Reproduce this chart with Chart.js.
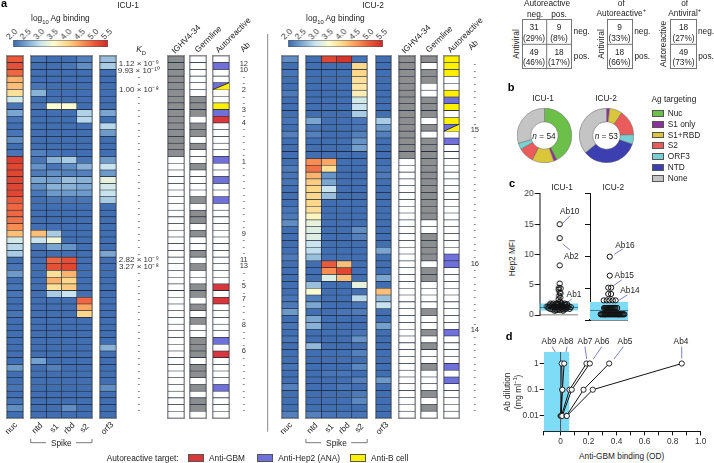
<!DOCTYPE html>
<html>
<head>
<meta charset="utf-8">
<script src="https://cdn.jsdelivr.net/npm/chart.js@4"></script>
<style>
  body { margin: 0; background: #fff; width: 714px; height: 463px; overflow: hidden; position: relative;
         font-family: "Liberation Sans", Arial, sans-serif; color: #222; }
  canvas { position: absolute; }
  .t { position: absolute; white-space: nowrap; font-size: 8.3px; line-height: 1; transform: translate(-50%, -50%); }
  .box { position: absolute; box-sizing: border-box; }
  sub, sup { font-size: 70%; line-height: 0; }
  svg { position: absolute; left: 0; top: 0; }
</style>
</head>
<body>
<svg id="lines" width="714" height="463"></svg>
<script>
// ---- data ----
var heatColumns = ["nuc", "ntd", "s1", "rbd", "s2", "orf3"];
var colorbarTicks = [2, 2.5, 3, 3.5, 4, 4.5, 5, 5.5];

// ICU-1, 54 antibodies, log10 Ag binding
var nuc1 = [5.0,5.1,4.9,4.3,4.2,3.9,3.1,2.1,2.5,2.1, 2.05,2.1,2.3,2.05,2.1,5.3,5.2,5.2,5.2,5.2, 5.2,5.0,4.9,4.9,4.8,4.6,4.2,3.1,2.9,2.8, 2.05,2.1,2.4,2.05,2.1,2.1,2.05,2.05,2.1,2.05, 2.05,2.05,2.05,2.05,2.05,2.05,2.4,2.05,2.05,2.1, 2.05,2.1,2.3,2.05];
var ntd1 = [2.1,2.05,2.05,2.05,2.1,2.6,2.05,2.1,2.05,2.05, 2.05,2.05,2.05,2.05,2.2,2.1,2.35,2.15,2.5,2.3, 2.1,2.05,2.05,2.05,2.05,2.05,4.2,3.0,2.15,2.05, 2.05,2.05,2.05,2.05,2.05,2.05,2.05,2.05,2.05,2.05, 2.05,2.05,2.05,2.05,2.05,2.45,2.05,2.05,2.05,2.05, 2.05,2.05,2.05,2.05];
var s11 = [2.05,2.05,2.05,2.05,2.05,2.05,2.05,3.5,2.05,2.05, 2.05,2.05,2.05,2.05,2.1,2.6,2.1,2.3,2.45,2.6, 2.4,2.1,2.05,2.05,2.05,2.05,2.8,3.4,2.5,2.05, 4.9,5.1,3.9,4.3,3.9,2.8,2.05,2.05,2.05,2.05, 2.05,2.05,2.05,2.05,2.05,2.05,2.2,2.05,2.05,2.05, 2.05,2.05,2.05,2.05];
var rbd1 = [2.05,2.1,2.05,2.05,2.05,2.05,2.05,3.5,2.05,2.05, 2.05,2.05,2.05,2.05,2.05,2.8,2.3,2.2,2.7,2.6, 2.4,2.1,2.05,2.05,2.05,2.05,2.05,2.05,2.35,2.05, 5.1,5.2,4.3,4.0,4.1,3.0,2.05,2.05,2.05,2.05, 2.05,2.05,2.05,2.05,2.05,2.05,2.05,2.05,2.05,2.05, 2.05,2.05,2.3,2.05];
var s21 = [2.2,2.3,2.05,2.05,2.05,2.05,2.05,2.05,2.85,2.9, 2.05,2.05,2.05,2.05,2.05,2.1,2.6,2.2,2.6,2.5, 2.4,2.1,2.05,2.05,2.05,2.05,2.05,2.05,2.05,2.05, 2.05,2.05,2.05,2.05,2.05,2.05,4.9,4.4,4.0,2.05, 2.05,2.05,2.05,2.05,2.05,2.05,2.05,2.05,2.05,2.05, 2.05,2.05,2.05,2.05];
var orf31 = [2.7,2.8,2.05,2.05,2.05,2.05,2.05,2.05,2.5,2.05, 2.9,2.4,2.05,2.05,2.05,2.4,3.0,2.4,3.3,3.1, 3.0,2.8,2.05,2.05,2.05,2.05,2.05,2.05,2.05,2.5, 2.05,2.05,2.05,2.05,2.05,2.05,2.05,2.05,2.05,2.05, 2.05,2.05,2.05,2.6,2.05,2.05,2.05,2.05,2.05,2.3, 2.05,2.05,2.05,2.05];
// 1 = grey, 0 = white
var ighv1 = [1,1,1,1,1,1,1,1,1,1, 1,1,1,1,1,0,0,0,0,0, 0,0,0,0,0,0,0,0,0,0, 0,0,0,0,0,0,0,0,0,0, 0,0,0,0,0,0,0,0,0,0, 0,0,0,0];
var germline1 = [0,0,0,0,0,0,1,1,1,0, 1,1,0,1,0,0,1,0,0,0, 0,1,0,1,1,0,1,0,0,1, 0,1,0,0,1,1,0,1,0,1, 0,0,1,1,1,0,1,1,0,1, 0,1,1,0];
// G anti-GBM, H anti-Hep2, B anti-B cell, X Hep2 and B cell
var auto1 = ["","H","","","X","","","B","H","G", "","","","","","H","","","H","", "","H","","","","","","","","", "","","","","G","","G","","","", "","","H","","G","","","","","H", "","","",""];
var kd1 = ["1.12 × 10⁻⁹","9.93 × 10⁻¹⁰","-","-","1.00 × 10⁻⁸","-","-","-","-","-", "-","-","-","-","-","-","-","-","-","-", "-","-","-","-","-","-","-","-","-","-", "2.82 × 10⁻⁹","3.27 × 10⁻⁸","-","-","-","-","-","-","-","-", "-","-","-","-","-","-","-","-","-","-", "-","-","-","-"];
var ab1 = ["12","10","-","-","2","-","-","3","-","4", "-","-","-","-","-","1","-","-","-","-", "-","-","-","-","-","-","9","-","-","-", "11","13","-","-","5","-","7","-","-","-", "8","-","-","-","6","-","-","-","-","-", "-","-","-","-"];

// ICU-2, 53 antibodies
var nuc2 = [2.3,2.05,2.1,2.05,2.05,2.15,2.05,2.05,2.05,2.1, 2.05,2.2,2.05,2.05,2.05,2.05,2.15,2.1,2.1,2.05, 2.05,2.05,2.1,2.15,2.3,2.05,2.05,2.05,2.05,2.15, 2.05,2.05,2.05,2.05,2.05,2.1,2.15,2.4,2.05,2.1, 2.05,2.1,2.05,2.05,2.05,2.1,2.05,2.05,2.2,2.05, 2.05,2.05,2.2];
var ntd2 = [2.05,2.05,2.05,2.05,2.05,2.05,2.05,2.05,2.05,2.5, 2.1,2.2,2.05,2.05,2.05,4.6,4.8,4.3,4.1,4.0, 4.0,4.0,3.9,3.6,3.3,3.2,3.2,3.0,2.95,2.7, 2.05,2.05,2.05,2.7,3.5,2.2,2.5,2.05,2.5,2.6, 2.05,2.05,2.65,2.05,2.05,2.05,2.05,2.05,2.05,2.05, 2.05,2.05,2.2];
var s12 = [5.2,2.05,2.05,2.05,2.05,2.05,2.05,2.05,2.05,2.05, 2.05,2.05,2.05,2.05,2.05,4.4,3.9,2.35,2.5,3.0, 2.7,2.05,2.05,2.05,2.05,2.05,2.05,2.05,2.05,2.05, 5.0,4.6,3.2,2.05,2.05,2.05,2.05,2.05,2.05,2.05, 2.05,2.05,2.05,2.05,2.05,2.05,2.1,2.05,2.05,2.05, 2.05,2.05,2.1];
var rbd2 = [5.4,2.05,2.05,2.05,2.05,2.05,2.05,2.05,2.05,2.05, 2.05,2.05,2.05,2.05,2.05,2.05,2.05,2.05,2.05,2.05, 2.05,2.05,2.05,2.05,2.05,2.05,2.05,2.05,2.05,2.05, 4.2,5.2,4.2,2.05,2.05,2.05,2.05,2.1,2.05,2.05, 2.05,2.05,2.05,2.05,2.05,2.05,2.1,2.05,2.1,2.05, 2.05,2.05,2.1];
var s22 = [2.1,4.0,4.0,3.9,3.8,3.7,3.1,3.0,2.8,2.1, 2.1,2.2,2.35,2.45,2.05,2.05,2.05,2.05,2.05,2.05, 2.05,2.05,2.05,2.05,2.05,2.3,2.2,2.05,2.05,2.05, 2.05,2.05,2.05,3.3,2.05,2.9,2.1,2.15,2.05,2.05, 2.1,2.35,2.05,2.2,2.05,2.25,2.05,2.2,2.05,2.15, 2.25,2.05,2.1];
var orf32 = [2.05,2.05,2.05,2.05,2.05,2.05,2.05,2.05,2.05,2.8, 2.4,2.2,2.05,2.05,2.05,2.05,2.1,2.15,2.05,2.05, 2.05,2.05,2.05,2.05,2.05,2.05,2.05,2.05,2.5,2.05, 2.05,2.05,2.5,2.05,4.2,2.7,3.0,2.05,2.05,2.45, 2.05,2.05,2.05,2.05,2.05,2.05,2.05,2.4,2.05,2.05, 2.05,2.05,2.05];
var ighv2 = [1,1,1,1,1,1,1,1,1,1, 1,1,1,1,1,0,0,0,0,0, 0,0,0,0,0,0,0,0,0,0, 0,0,0,0,0,0,0,0,0,0, 0,0,0,0,0,0,0,0,0,0, 0,0,0];
var germline2 = [1,0,1,1,0,0,1,1,1,0, 1,0,1,1,1,1,1,1,1,1, 1,1,1,1,0,0,1,1,1,1, 0,1,1,0,0,0,0,1,0,0, 1,0,1,0,0,1,0,0,0,1, 0,1,0];
var auto2 = ["B","B","B","","","B","H","B","","B", "X","","H","","","","","","","", "","","","","","","","","","H", "H","","","","","","","","","", "H","","","","","H","","H","","", "","",""];
var ab2 = ["-","-","-","-","-","-","-","-","-","-", "15","-","-","-","-","-","-","-","-","-", "-","-","-","-","-","-","-","-","-","-", "16","-","-","-","-","-","-","-","-","-", "14","-","-","-","-","-","-","-","-","-", "-","-","-"];

// contingency tables
var tableAll = [["31", "(29%)"], ["9", "(8%)"], ["49", "(46%)"], ["18", "(17%)"]];
var tableAuto = [["9", "(33%)"], ["18", "(66%)"]];
var tableViral = [["18", "(27%)"], ["49", "(73%)"]];

// panel b
var targetNames = ["Nuc", "S1 only", "S1+RBD", "S2", "ORF3", "NTD", "None"];
var targetCounts1 = [23, 1, 7, 5, 2, 0, 16];
var targetCounts2 = [0, 1, 4, 8, 3, 18, 19];

// panel c, x is only the swarm offset
var hep2X1 = [0.04,0.04,0.04,0.04,0,0.09,-0.02,0.04,0.08,0.01,0.07,-0.02,0.05,0.12,-0.06, -0.62,-0.56,-0.5,-0.46,-0.41,-0.36,-0.33,-0.28,-0.24,-0.2,-0.17,-0.13,-0.09,-0.05,-0.02,0.02,0.06,0.09,0.13,0.17,0.2,0.24,0.28,0.31,0.36,0.4,0.45,0.5,0.56,0.62,-0.44,-0.3,-0.14,0,0.15,0.3,0.42,-0.22,0.22];
var hep2Y1 = [15,12.7,8.2,5.2,4.5,4.4,4.2,3.7,3.6,3.2,2.9,2.6,2.2,2.0,1.9, 1.4,1.2,1.6,1.0,1.4,1.7,0.9,1.3,1.6,1.0,1.4,0.8,1.2,1.7,1.0,1.4,0.8,1.2,1.6,1.0,1.4,0.9,1.2,1.7,1.0,1.4,1.2,1.5,1.0,1.3,1.9,1.9,1.9,1.8,1.9,1.9,1.8,0.7,0.7];
var hep2X2 = [0.04,0.04,-0.04,0.11,-0.04,0.11,-0.28,-0.12,0.03,0.2,0.35, -0.26,-0.21,-0.16,-0.11,-0.06,-0.01,0.04,0.09,0.14,0.19,0.24,0.29,0.34,0.43, -0.44,-0.39,-0.34,-0.29,-0.24,-0.19,-0.14,-0.09,-0.04,0.01,0.06,0.11,0.16,0.21,0.26,0.31,0.36,0.41,0.46,0.51,0.56,0.61,0.66,0.71,0.76,0.81,-0.2,0.5];
var hep2Y2 = [10,7,5.1,5.1,4.1,4.1,3.1,3.1,3.1,3.1,3.1, 1.9,1.9,1.9,1.9,1.9,1.9,1.9,1.9,1.9,1.9,1.9,1.9,1.9,1.9, 0.9,0.9,0.9,0.9,0.9,0.9,0.9,0.9,0.9,0.9,0.9,0.9,0.9,0.9,0.9,0.9,0.9,0.9,0.9,0.9,0.9,0.9,0.9,0.9,0.9,0.9,0.9,0.9];
var band1 = [0.75, 1.9], median1 = 1.25;
var band2 = [0, 2.85], median2 = 1.5;
var hep2Ticks = [0, 5, 10, 15, 20];

// panel d
var dilutions = [1, 0.1, 0.01];
var ab4OD = [0.865, 0.23, 0.045];
var ab5OD = [0.347, 0.164, 0.042];
var ab6OD = [0.209, 0.08, 0.012];
var ab7OD = [0.185, 0.064, 0.006];
var ab8OD = [0.026, 0.013, 0.005];
var ab9OD = [0.008, 0.012, 0];
var odTicks = [-0.12, 0, 0.1, 0.2, 0.3, 0.4, 0.5, 0.6, 0.7, 0.8, 0.9, 1];
var odBand = 0.065;

// ---- helpers ----
var heatStops = [[2, "#3b69ae"], [2.5, "#7aa6d0"], [3, "#c9e4ef"], [3.5, "#fdfcce"], [4, "#fed88a"], [4.5, "#fc9a5a"], [5, "#ea5a3a"], [5.5, "#d22a28"]];
var cellColors = { G: "#d8383c", H: "#6f70da", B: "#fff000", X: "#6f70da", "": "#ffffff" };

function hexRgb(h) { return [1, 3, 5].map(function (i) { return parseInt(h.substr(i, 2), 16); }); }

function heatColor(v) {
  for (var i = 0; i < heatStops.length - 1; i++) {
    if (v <= heatStops[i + 1][0]) {
      var a = hexRgb(heatStops[i][1]), b = hexRgb(heatStops[i + 1][1]);
      var f = Math.max(0, (v - heatStops[i][0]) / 0.5);
      return "rgb(" + a.map(function (c, k) { return Math.round(c + (b[k] - c) * f); }).join(",") + ")";
    }
  }
  return heatStops[heatStops.length - 1][1];
}
function greyColor(v) { return v ? "#8d8e90" : "#ffffff"; }
function autoColor(v) { return cellColors[v]; }

function newCanvas(left, top, w, h) {
  var c = document.createElement("canvas");
  c.width = w; c.height = h;
  c.style.left = left + "px"; c.style.top = top + "px";
  c.style.width = w + "px"; c.style.height = h + "px";
  document.body.appendChild(c);
  return c;
}

function label(html, x, y, opts) {
  opts = opts || {};
  var d = document.createElement("div");
  d.className = "t";
  d.innerHTML = html;
  d.style.left = x + "px"; d.style.top = y + "px";
  if (opts.size) d.style.fontSize = opts.size + "px";
  if (opts.bold) { d.style.fontWeight = "bold"; d.style.color = "#000"; }
  if (opts.rotate) d.style.transform = "translate(-50%, -50%) rotate(" + opts.rotate + "deg)";
  if (opts.left) d.style.transform = "translate(0, -50%)";
  document.body.appendChild(d);
}

function svgLine(x1, y1, x2, y2, color, width) {
  var l = document.createElementNS("http://www.w3.org/2000/svg", "line");
  l.setAttribute("x1", x1); l.setAttribute("y1", y1);
  l.setAttribute("x2", x2); l.setAttribute("y2", y2);
  l.setAttribute("stroke", color); l.setAttribute("stroke-width", width || 0.8);
  document.getElementById("lines").appendChild(l);
}

var baseOptions = {
  responsive: false, animation: false,
  layout: { autoPadding: false, padding: 0 },
  plugins: { legend: { display: false }, tooltip: { enabled: false } }
};
function opts(extra) { return Object.assign({}, baseOptions, extra); }

// the two-coloured Autoreactive cell
var splitCells = {
  id: "splitCells",
  afterDatasetsDraw: function (chart, args, o) {
    if (!o.rows) return;
    var ctx = chart.ctx;
    o.rows.forEach(function (v, i) {
      if (v !== "X") return;
      var el = chart.getDatasetMeta(0).data[i];
      var top = el.y - el.height / 2, bottom = el.y + el.height / 2;
      ctx.save();
      ctx.beginPath();
      ctx.moveTo(el.base, bottom); ctx.lineTo(el.x, top); ctx.lineTo(el.x, bottom); ctx.closePath();
      ctx.fillStyle = cellColors.B; ctx.fill();
      ctx.beginPath();
      ctx.moveTo(el.base, bottom); ctx.lineTo(el.x, top);
      ctx.strokeStyle = "#111"; ctx.lineWidth = 0.8; ctx.stroke();
      ctx.restore();
    });
  }
};
Chart.register(splitCells);

// a block of heatmap columns, one stacked bar dataset per column
function heatBlock(left, width, top, height, columns, colorOf, splitRows) {
  var canvas = newCanvas(left, top, width, height);
  canvas.style.outline = "1px solid #8f8f8f";
  var rows = columns[0].map(function (v, i) { return i; });
  new Chart(canvas, {
    type: "bar",
    data: {
      labels: rows,
      datasets: columns.map(function (col) {
        return {
          data: col.map(function () { return 1; }),
          backgroundColor: col.map(colorOf),
          borderColor: "#1a2436", borderWidth: 0.6, borderSkipped: false,
          barPercentage: 1, categoryPercentage: 1
        };
      })
    },
    options: opts({
      indexAxis: "y",
      scales: {
        x: { stacked: true, min: 0, max: columns.length, display: false },
        y: { stacked: true, display: false }
      },
      plugins: Object.assign({}, baseOptions.plugins, { splitCells: { rows: splitRows } })
    })
  });
}

// a column of row labels, drawn as the tick labels of a category axis
function rowLabels(left, width, top, height, labels, size) {
  new Chart(newCanvas(left, top, width, height), {
    type: "bar",
    data: { labels: labels, datasets: [{ data: [] }] },
    options: opts({
      indexAxis: "y",
      scales: {
        x: { display: false },
        y: {
          afterFit: function (s) { s.width = width - 1; },
          grid: { display: false, drawTicks: false }, border: { display: false },
          ticks: { autoSkip: false, padding: 0, crossAlign: "center", color: "#333", font: { family: "Liberation Sans", size: size } }
        }
      }
    })
  });
}

function colorbar(left, right) {
  var pad = 12;
  new Chart(newCanvas(left - pad, 22, right - left + pad * 2, 25), {
    type: "bar",
    data: {
      labels: ["scale"],
      datasets: [{
        data: [[2, 5.5]], barPercentage: 1, categoryPercentage: 1,
        borderColor: "#555", borderWidth: 0.8, borderSkipped: false,
        backgroundColor: function (c) {
          var area = c.chart.chartArea;
          if (!area) return "#fff";
          var g = c.chart.ctx.createLinearGradient(area.left, 0, area.right, 0);
          heatStops.forEach(function (s) { g.addColorStop((s[0] - 2) / 3.5, s[1]); });
          return g;
        }
      }]
    },
    options: opts({
      indexAxis: "y",
      layout: { autoPadding: false, padding: { left: pad, right: pad } },
      scales: {
        y: { display: false },
        x: {
          position: "top", min: 2, max: 5.5,
          afterFit: function (s) { s.height = 18; },
          afterBuildTicks: function (s) { s.ticks = colorbarTicks.map(function (v) { return { value: v }; }); },
          grid: { display: false, drawTicks: false }, border: { display: false },
          ticks: {
            minRotation: 45, maxRotation: 45, autoSkip: false, padding: -2, labelOffset: 2, color: "#333",
            font: { family: "Liberation Sans", size: 8.3 },
            callback: function (v) { return v.toFixed(1); }
          }
        }
      }
    })
  });
}

function donut(cx, cy, r, counts) {
  new Chart(newCanvas(cx - r, cy - r, r * 2, r * 2), {
    type: "doughnut",
    data: { labels: targetNames, datasets: [{ data: counts, backgroundColor: targetColors, borderColor: "#666", borderWidth: 0.5 }] },
    options: opts({ cutout: "50%" })
  });
}

// one half of the Hep2 MFI plot
function swarm(left, width, xs, ys, band, median, showLabels, baseColor) {
  var yAxisWidth = showLabels ? 34.3 : 6;
  var points = xs.map(function (x, i) { return { x: x, y: ys[i] }; });
  new Chart(newCanvas(left, 188, width, 133), {
    type: "scatter",
    data: {
      datasets: [
        { data: points, clip: false, pointRadius: 2.6, pointBackgroundColor: "rgba(255,255,255,0)", pointBorderColor: "#111", pointBorderWidth: 1, order: 1 },
        { type: "line", data: [{ x: -1, y: median }, { x: 1, y: median }], borderColor: "#35627a", borderWidth: 0.8, pointRadius: 0, order: 2 },
        { type: "line", data: [{ x: -1, y: band[1] }, { x: 1, y: band[1] }], borderWidth: 0, pointRadius: 0, backgroundColor: "#7fdcf6", fill: { value: band[0] }, order: 3 }
      ]
    },
    options: opts({
      layout: { autoPadding: false, padding: { top: 5.3 } },
      scales: {
        x: {
          min: -1, max: 1,
          afterFit: function (s) { s.height = 1; },
          grid: { display: false, drawTicks: false },
          border: { color: baseColor, width: 1.5 },
          ticks: { display: false }
        },
        y: {
          min: 0, max: 20,
          afterFit: function (s) { s.width = yAxisWidth; },
          afterBuildTicks: function (s) { s.ticks = hep2Ticks.map(function (v) { return { value: v }; }); },
          border: { color: "#111", width: 1 },
          grid: { drawOnChartArea: false, color: "#111", tickLength: 5 },
          ticks: { display: showLabels, padding: 1, color: "#333", font: { family: "Liberation Sans", size: 8.3 } }
        }
      }
    })
  });
}

function odChart() {
  var odSeries = [ab4OD, ab5OD, ab6OD, ab7OD, ab8OD, ab9OD].map(function (od) {
    return {
      showLine: true, order: 1,
      data: od.map(function (x, i) { return { x: x, y: dilutions[i] }; }),
      borderColor: "#111", borderWidth: 1,
      pointRadius: 2.6, pointBackgroundColor: "#fff", pointBorderColor: "#111", pointBorderWidth: 0.9
    };
  });
  var yTop = 2.75, yBottom = 0.00257;
  odSeries.push({ showLine: true, order: 2, data: [{ x: 0, y: yTop }, { x: 0, y: yBottom }], borderColor: "#556", borderWidth: 0.9, pointRadius: 0 });
  odSeries.push({ showLine: true, order: 3, data: [{ x: odBand, y: yTop }, { x: odBand, y: yBottom }], borderColor: "#fff", borderWidth: 1, borderDash: [2, 2], pointRadius: 0 });
  odSeries.push({ showLine: true, order: 4, data: [{ x: odTicks[0], y: yTop }, { x: odBand, y: yTop }], borderWidth: 0, pointRadius: 0, backgroundColor: "#7fdcf6", fill: { value: yBottom } });
  new Chart(newCanvas(500, 346, 210, 100.3), {
    type: "scatter",
    data: { datasets: odSeries },
    options: opts({
      layout: { autoPadding: false, padding: { top: 5, right: 9.3 } },
      scales: {
        x: {
          min: odTicks[0], max: 1,
          afterFit: function (s) { s.height = 14.6; },
          afterBuildTicks: function (s) { s.ticks = odTicks.map(function (v) { return { value: v }; }); },
          border: { color: "#111", width: 1 },
          grid: { drawOnChartArea: false, color: "#111", tickLength: 4 },
          ticks: {
            autoSkip: false, maxRotation: 0, padding: 1, color: "#333",
            font: { family: "Liberation Sans", size: 8.3 },
            callback: function (v) { return [0, 0.2, 0.4, 0.6, 0.8, 1].indexOf(v) >= 0 ? (v === 0 ? "0" : v.toFixed(1)) : ""; }
          }
        },
        y: {
          type: "logarithmic", min: yBottom, max: yTop,
          afterFit: function (s) { s.width = 43.7; },
          afterBuildTicks: function (s) { s.ticks = dilutions.map(function (v) { return { value: v }; }); },
          border: { display: false },
          grid: { drawOnChartArea: false, color: "#111", tickLength: 4 },
          ticks: { padding: 1, color: "#333", font: { family: "Liberation Sans", size: 8.3 }, callback: function (v) { return String(v); } }
        }
      }
    })
  });
}

function contingency(left, width, midX, vals, centers) {
  var box = document.createElement("div");
  box.className = "box";
  box.style.cssText = "left:" + left + "px;top:19.3px;width:" + width + "px;height:50px;border:1px solid #777";
  document.body.appendChild(box);
  svgLine(left, 44.3, left + width, 44.3, "#777", 1);
  if (midX) svgLine(midX, 19.3, midX, 69.3, "#777", 1);
  var rowsY = [[26.7, 37.7], [51.7, 62.3]];
  vals.forEach(function (v, i) {
    var row = centers.length > 1 ? Math.floor(i / 2) : i;
    var cx = centers.length > 1 ? centers[i % 2] : centers[0];
    label(v[0], cx, rowsY[row][0]);
    label(v[1], cx, rowsY[row][1]);
  });
}

function swatch(left, top, w, h, color) {
  var d = document.createElement("div");
  d.className = "box";
  d.style.cssText = "left:" + left + "px;top:" + top + "px;width:" + w + "px;height:" + h + "px;background:" + color + ";border:1px solid #555";
  document.body.appendChild(d);
}

// ---- panel a ----
var rowTop = 55.7, rowsHeight = 362.5;

function icuPanel(dx, title, titleX, cols, barLeft) {
  heatBlock(7 + dx, 15.6, rowTop, rowsHeight, [cols[0]], heatColor);
  heatBlock(30.7 + dx, 61.3, rowTop, rowsHeight, [cols[1], cols[2], cols[3], cols[4]], heatColor);
  heatBlock(100.3 + dx, 15.6, rowTop, rowsHeight, [cols[5]], heatColor);
  // spike bracket
  svgLine(30.7 + dx, 439, 30.7 + dx, 442.7, "#555");
  svgLine(30.7 + dx, 442.7, 46 + dx, 442.7, "#555");
  svgLine(76 + dx, 442.7, 92 + dx, 442.7, "#555");
  svgLine(92 + dx, 439, 92 + dx, 442.7, "#555");
  label("Spike", 61.3 + dx, 442.7);
  colorbar(barLeft, barLeft + 94.2);
  label("log<sub>10</sub> Ag binding", barLeft + 47, 18);
  label(title, titleX, 5);
  var bottomX = [10.7, 37, 54, 69, 84, 106.7];
  heatColumns.forEach(function (name, i) { label(name, bottomX[i] + dx, 427.5, { rotate: -45 }); });
}

icuPanel(0, "ICU-1", 128, [nuc1, ntd1, s11, rbd1, s21, orf31], 13.4);
icuPanel(275.2, "ICU-2", 373, [nuc2, ntd2, s12, rbd2, s22, orf32], 288.4);

heatBlock(168.3, 15.4, rowTop, rowsHeight, [ighv1], greyColor);
heatBlock(190.3, 15.6, rowTop, rowsHeight, [germline1], greyColor);
heatBlock(213.3, 15.4, rowTop, rowsHeight, [auto1], autoColor, auto1);
rowLabels(76.5, 84, rowTop, rowsHeight, kd1, 8);
rowLabels(235, 14, rowTop, rowsHeight, ab1, 7.5);

heatBlock(399, 15.7, rowTop, rowsHeight, [ighv2], greyColor);
heatBlock(421.3, 15.7, rowTop, rowsHeight, [germline2], greyColor);
heatBlock(443.7, 15.3, rowTop, rowsHeight, [auto2], autoColor, auto2);
rowLabels(466, 14, rowTop, rowsHeight, ab2, 7.5);

svgLine(267.7, 34, 267.7, 431.7, "#8a8a8a", 1);

label("a", 4, 3, { bold: true, size: 11 });
label("<i>K</i><sub>D</sub>", 141, 49);
label("IGHV4-34", 186, 38.5, { rotate: -45 });
label("Germline", 208, 39, { rotate: -45 });
label("Autoreactive", 233, 35, { rotate: -45 });
label("Ab", 245, 47, { rotate: -45 });
label("IGHV4-34", 416, 38.5, { rotate: -45 });
label("Germline", 438.5, 39, { rotate: -45 });
label("Autoreactive", 465, 35, { rotate: -45 });
label("Ab", 473, 45, { rotate: -45 });

label("Autoreactive target:", 106.7, 458, { left: true });
swatch(188.3, 454, 15.7, 8, cellColors.G);
label("Anti-GBM", 209, 458, { left: true });
swatch(257.3, 454, 15.7, 8, cellColors.H);
label("Anti-Hep2 (ANA)", 278.3, 458, { left: true });
swatch(350, 454, 15.7, 8, cellColors.B);
label("Anti-B cell", 371, 458, { left: true });

// ---- tables ----
label("Autoreactive", 547, 3.3);
label("neg.", 535, 14);
label("pos.", 559, 14);
label("Antiviral", 516, 44, { rotate: -90 });
contingency(521.7, 50.2, 546.7, tableAll, [534, 559]);
label("neg.", 581.7, 31); label("pos.", 581.7, 56);

label("of", 621.3, 3.3);
label("Autoreactive<sup>+</sup>", 621.3, 13);
label("Antiviral", 601, 44, { rotate: -90 });
contingency(606.7, 26.2, 0, tableAuto, [619.5]);
label("neg.", 642.3, 31); label("pos.", 642.3, 56);

label("of", 684.7, 3.3);
label("Antiviral<sup>+</sup>", 684.7, 13);
label("Autoreactive", 663.3, 44, { rotate: -90 });
contingency(670.3, 26.4, 0, tableViral, [683.5]);
label("neg.", 706, 31); label("pos.", 706, 56);

// ---- panel b ----
var targetColors = ["#6cc04a", "#8e2f9e", "#d9c63a", "#ea5b5b", "#79d0d4", "#3b3fb0", "#c4c4c4"];
label("b", 511, 87, { bold: true, size: 11 });
label("ICU-1", 543, 98);
label("ICU-2", 606, 98);
donut(544, 135, 27.5, targetCounts1);
donut(606.3, 135, 27.5, targetCounts2);
label("<i>n</i> = 54", 544, 135.5);
label("<i>n</i> = 53", 606.3, 135.5);
label("Ag targeting", 651.5, 99, { left: true });
var swatchY = [113, 124, 134.7, 145.3, 156, 167.3, 178.3];
targetNames.forEach(function (name, i) {
  swatch(652.3, swatchY[i] - 3, 12, 6.5, targetColors[i]);
  label(name, 667.7, swatchY[i], { left: true });
});

// ---- panel c ----
label("c", 512, 183, { bold: true, size: 11 });
label("ICU-1", 562, 186.7);
label("ICU-2", 613.3, 186.7);
label("Hep2 MFI", 511.7, 258, { rotate: -90 });
swarm(505, 72.5, hep2X1, hep2Y1, band1, median1, true, "#aaa");
swarm(584.3, 44, hep2X2, hep2Y2, band2, median2, false, "#111");
var leaderBlue = "#5a5fbf";
label("Ab10", 569.7, 210.7); svgLine(570, 215.7, 562.7, 223.3, leaderBlue);
label("Ab2", 571.3, 255.7); svgLine(562.7, 244, 570, 250, leaderBlue);
label("Ab1", 574, 294.3); svgLine(571.7, 299, 562.7, 306.7, leaderBlue);
label("Ab16", 625, 245); svgLine(622.7, 249, 614.3, 254.3, leaderBlue);
label("Ab15", 624.3, 275); svgLine(621.7, 280, 613.3, 285.7, leaderBlue);
label("Ab14", 630, 289.7); svgLine(627.3, 295, 619.3, 300, leaderBlue);

// ---- panel d ----
label("d", 509, 336, { bold: true, size: 11 });
odChart();
label("Ab9", 549, 340.7); svgLine(552, 346.7, 559.3, 359, leaderBlue);
label("Ab8", 566, 340.7); svgLine(567, 346.7, 565, 359, leaderBlue);
label("Ab7", 585, 340.7); svgLine(585, 346.7, 586.7, 359, leaderBlue);
label("Ab6", 602, 340.7); svgLine(601.7, 346.7, 593.3, 359, leaderBlue);
label("Ab5", 625, 340.7); svgLine(623.3, 346.7, 614, 359, leaderBlue);
label("Ab4", 681, 340.7); svgLine(681.7, 346.7, 681.7, 358.3, leaderBlue);
label("Ab dilution", 507, 392, { rotate: -90 });
label("(mg ml<sup>−1</sup>)", 518, 392, { rotate: -90 });
label("Anti-GBM binding (OD)", 621.7, 455.7);
</script>
</body>
</html>
